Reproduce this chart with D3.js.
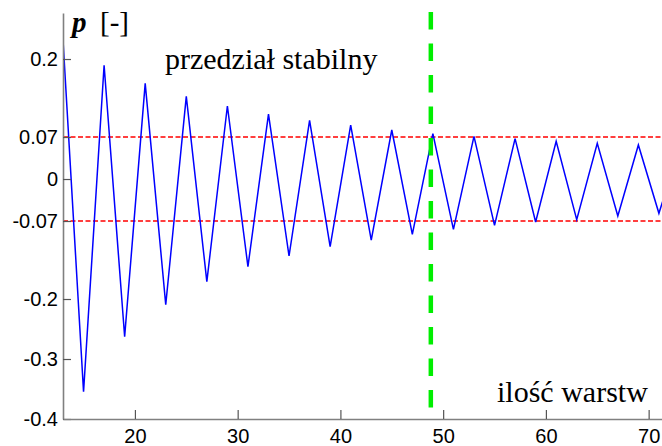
<!DOCTYPE html>
<html>
<head>
<meta charset="utf-8">
<script src="https://cdn.jsdelivr.net/npm/d3@7"></script>
<style>
  html, body { margin: 0; padding: 0; background: #fff; }
  svg { display: block; }
</style>
</head>
<body>
<svg id="chart" width="662" height="446"></svg>
<script>
// ---- data ----
const layers = [13,15,17,19,21,23,25,27,29,31,33,35,37,39,41,43,45,47,49,51,53,55,57,59,61,63,65,67,69,71,73];
const pValues = [0.232,-0.3545,0.1895,-0.2628,0.1595,-0.2095,0.1378,-0.1711,0.1217,-0.1461,
                 0.1083,-0.1283,0.0978,-0.1128,0.09,-0.1017,0.0817,-0.0922,0.0755,-0.0839,
                 0.0712,-0.0772,0.0672,-0.0717,0.0628,-0.0678,0.0595,-0.0617,0.0567,-0.0572,0.053];
const limitValues = [0.07, -0.07];
const stableFrom = [48.8];
const xTicks = [20,30,40,50,60,70];
const yTicks = [-0.4,-0.3,-0.2,-0.07,0,0.07,0.2];
const yTickLabels = ["-0.4","-0.3","-0.2","-0.07","0","0.07","0.2"];
const xDomain = [13, 71.3];
const yDomain = [-0.4, 0.2767];

// ---- layout ----
const svg = d3.select("#chart");
const mLeft = 63, mRight = 662, mTop = 13, mBottom = 419;
const x = d3.scaleLinear().domain(xDomain).range([mLeft, mRight]);
const y = d3.scaleLinear().domain(yDomain).range([mBottom, mTop]);

svg.append("defs").append("clipPath").attr("id","clip")
  .append("rect").attr("x", mLeft).attr("y", 0).attr("width", mRight-mLeft).attr("height", mBottom);

const plot = svg.append("g").attr("clip-path","url(#clip)");

// red limit lines
plot.selectAll("line.limit").data(limitValues).enter().append("line")
  .attr("class","limit")
  .attr("x1", x(xDomain[0])).attr("x2", x(xDomain[1]))
  .attr("y1", d => y(d)).attr("y2", d => y(d))
  .attr("stroke","#ff0000").attr("stroke-width",1.3)
  .attr("stroke-dasharray","5,2.5");

// blue zigzag
const line = d3.line().x((d,i) => x(layers[i])).y(d => y(d));
plot.append("path").datum(pValues)
  .attr("d", line)
  .attr("fill","none").attr("stroke","#0000ff").attr("stroke-width",1.5)
  .attr("stroke-linejoin","miter");

// green vertical dashed line
svg.selectAll("line.stable").data(stableFrom).enter().append("line")
  .attr("class","stable")
  .attr("x1", d => x(d)).attr("x2", d => x(d))
  .attr("y1", 12).attr("y2", 417)
  .attr("stroke","#00ee00").attr("stroke-width",4.5)
  .attr("stroke-dasharray","17.5,14");

// axes
const yAxis = d3.axisLeft(y).tickValues(yTicks)
  .tickFormat((d,i) => yTickLabels[i]).tickSizeInner(-8).tickSizeOuter(0).tickPadding(5);
const gy = svg.append("g").attr("transform",`translate(${mLeft},0)`).call(yAxis);

const xAxis = d3.axisBottom(x).tickValues(xTicks).tickFormat(d3.format("d"))
  .tickSizeInner(-9).tickSizeOuter(0).tickPadding(10);
const gx = svg.append("g").attr("transform",`translate(0,${mBottom})`).call(xAxis);

[gx, gy].forEach(g => {
  g.select(".domain").attr("stroke","#808080").attr("stroke-width",1.6);
  g.selectAll(".tick line").attr("stroke","#555").attr("stroke-width",1.2);
  g.selectAll(".tick text").attr("fill","#000")
    .style("font-family","Arial, 'Liberation Sans', sans-serif").style("font-size","20px");
});

// texts
svg.append("text").attr("x",72).attr("y",32)
  .style("font-family","'Times New Roman','Liberation Serif',serif")
  .style("font-size","29px").style("font-weight","bold").style("font-style","italic")
  .text("p");
svg.append("text").attr("x",100).attr("y",32)
  .style("font-family","'Times New Roman','Liberation Serif',serif")
  .style("font-size","29px")
  .text("[-]");
svg.append("text").attr("x",165).attr("y",69)
  .style("font-family","'Times New Roman','Liberation Serif',serif")
  .style("font-size","30px")
  .text("przedział stabilny");
svg.append("text").attr("x",497).attr("y",401.5)
  .style("font-family","'Times New Roman','Liberation Serif',serif")
  .style("font-size","30px")
  .text("ilość warstw");
</script>
</body>
</html>
